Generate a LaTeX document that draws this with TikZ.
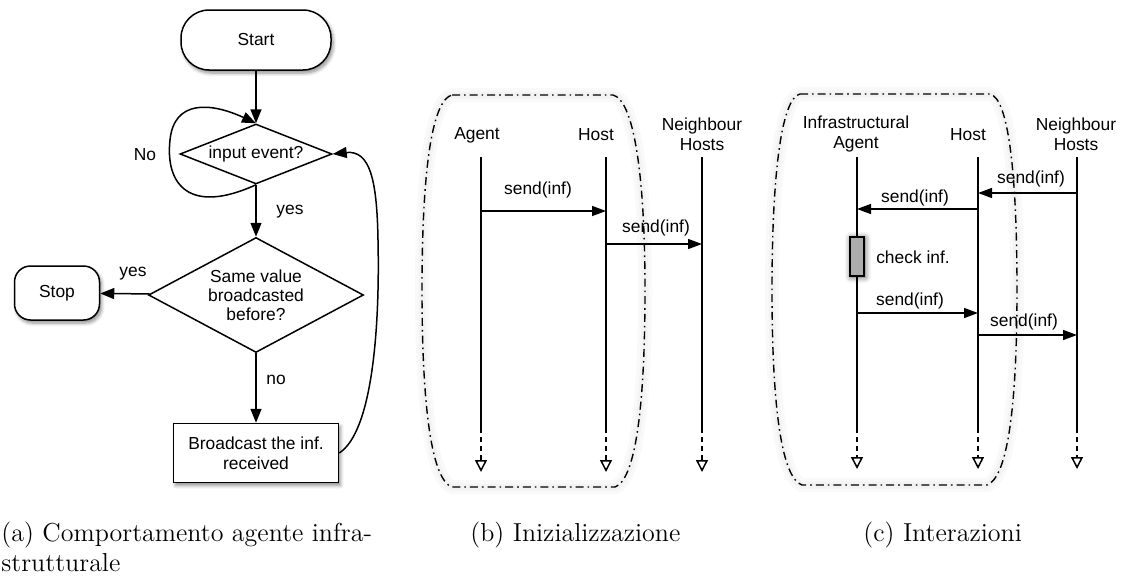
\documentclass[tikz,border=0pt]{standalone}
\usepackage{fontspec}
\newfontfamily\arialf{Liberation Sans}
\usetikzlibrary{arrows.meta,shapes.geometric,shadows.blur}
\begin{document}
\begin{tikzpicture}[x=0.5pt,y=-0.5pt,
  lbl/.style={font=\arialf\fontsize{8.7}{10}\selectfont, align=center, inner sep=0pt},
  ln/.style={line width=0.75pt},
  arr/.style={ln,-{Triangle[length=7pt,width=5.5pt]}},
  sarr/.style={ln,-{Triangle[length=7pt,width=5pt]}},
  life/.style={ln},
  lifeend/.style={ln,dash pattern=on 2.5pt off 2pt,-{Triangle[open,length=6pt,width=6pt,line width=0.75pt]}},
  shd/.style={blur shadow={shadow xshift=1pt,shadow yshift=-1.5pt,shadow blur steps=6,shadow opacity=45}},
  term/.style={draw,ln,fill=white,shd,lbl},
  dia/.style={draw,ln,fill=white,diamond,lbl,inner sep=0pt},
  box/.style={draw,ln,fill=white,shd,lbl,rectangle},
  dashdot/.style={line width=0.7pt,dash pattern=on 4pt off 2pt on 0.8pt off 2pt},
  halo/.style={line width=7pt,black,opacity=0.025},
  halo2/.style={line width=3.5pt,black,opacity=0.025},
  captxt/.style={font=\fontsize{13}{15}\selectfont, inner sep=0pt, align=left}
]
\useasboundingbox (0,0) rectangle (1124,578);

% ---------- (a) flowchart ----------
\node[term, minimum width=75pt, minimum height=30pt, rounded corners=14pt] (start) at (256,40) {Start};
\node[dia, minimum width=76pt, minimum height=30pt, aspect=2.5] (q1) at (256,154) {input event?};
\node[dia, minimum width=107.5pt, minimum height=57.5pt, aspect=1.87, font=\arialf\fontsize{8.7}{9.6}\selectfont] (q2) at (256,295) {Same value\\broadcasted\\before?};
\node[term, minimum width=42.5pt, minimum height=27pt, rounded corners=8pt] (stop) at (57,293) {Stop};
\node[box, minimum width=82.5pt, minimum height=29.5pt] (bc) at (256,453) {Broadcast the inf.\\received};

\draw[arr] (start) -- (q1);
\draw[arr] (q1) -- (q2);
\node[lbl] (lyes1) at (290,212) {yes};
\draw[arr] (q2) -- (stop);
\node[lbl] (lyes2) at (133,274) {yes};
\draw[arr] (q2) -- (bc);
\node[lbl] (lno) at (276,380) {no};
\draw[arr] (q1.south) .. controls (190,215) and (165,185) .. (170,140)
   .. controls (174,100) and (210,102) .. (q1.north);
\node[lbl] (lNo) at (145,155) {No};
\draw[arr] (bc.east) .. controls (372,432) and (380,330) .. (378,240)
   .. controls (377,180) and (370,150) .. (q1.east);

% ---------- (b) initialization ----------
\def\bpath{(452,95) -- (613,95) .. controls (633,100) and (645,170) .. (645,290)
  .. controls (645,410) and (635,480) .. (615,487) -- (452,487)
  .. controls (432,480) and (422,410) .. (422,290)
  .. controls (422,170) and (432,100) .. (452,95) -- cycle}
\draw[halo] \bpath;
\draw[halo2] \bpath;
\draw[dashdot] \bpath;
\node[lbl] (bag) at (477,135) {Agent};
\node[lbl] (bho) at (596,135) {Host};
\node[lbl] (bnh) at (702,134) {Neighbour\\Hosts};
\foreach \n/\x in {bA/481,bH/606,bN/702}{
  \coordinate (\n T) at (\x,157);
  \coordinate (\n M) at (\x,428);
  \coordinate (\n B) at (\x,472);
  \draw[life] (\n T) -- (\n M);
  \draw[lifeend] (\n M) -- (\n B);
}
\coordinate (b1s) at (481,211); \coordinate (b1e) at (606,211);
\coordinate (b2s) at (606,244); \coordinate (b2e) at (702,244);
\draw[sarr] (b1s) -- (b1e);
\node[lbl] (bl1) at (538,190) {send(inf)};
\draw[sarr] (b2s) -- (b2e);
\node[lbl] (bl2) at (656,228) {send(inf)};

% ---------- (c) interactions ----------
\def\cpath{(800,94) -- (990,94) .. controls (1008,98) and (1017,170) .. (1017,290)
  .. controls (1017,410) and (1007,478) .. (987,485) -- (802,485)
  .. controls (782,478) and (772,410) .. (772,290)
  .. controls (772,170) and (782,98) .. (800,94) -- cycle}
\draw[halo] \cpath;
\draw[halo2] \cpath;
\draw[dashdot] \cpath;
\node[lbl] (cag) at (856,134) {Infrastructural\\Agent};
\node[lbl] (cho) at (968,135) {Host};
\node[lbl] (cnh) at (1076,134) {Neighbour\\Hosts};
\foreach \n/\x in {cA/857,cH/978,cN/1077}{
  \coordinate (\n T) at (\x,157);
  \coordinate (\n M) at (\x,428);
  \coordinate (\n B) at (\x,469);
  \draw[life] (\n T) -- (\n M);
  \draw[lifeend] (\n M) -- (\n B);
}
\node[draw,ln,fill=gray!65,minimum width=7pt,minimum height=19.5pt,inner sep=0pt,
  blur shadow={shadow xshift=0.5pt,shadow yshift=-0.5pt,shadow blur radius=3pt,shadow opacity=70}] (act) at (857,256.5) {};
\node[lbl] (chk) at (913,257) {check inf.};
\coordinate (c1s) at (1077,193); \coordinate (c1e) at (978,193);
\coordinate (c2s) at (978,209); \coordinate (c2e) at (857,209);
\coordinate (c3s) at (857,313); \coordinate (c3e) at (978,313);
\coordinate (c4s) at (978,335); \coordinate (c4e) at (1077,335);
\draw[sarr] (c1s) -- (c1e);
\node[lbl] (cl1) at (1031,179) {send(inf)};
\draw[sarr] (c2s) -- (c2e);
\node[lbl] (cl2) at (915,198) {send(inf)};
\draw[sarr] (c3s) -- (c3e);
\node[lbl] (cl3) at (910,301) {send(inf)};
\draw[sarr] (c4s) -- (c4e);
\node[lbl] (cl4) at (1024,322) {send(inf)};

% ---------- captions ----------
\node[captxt, anchor=base west] (capa) at (1,541) {(a) Comportamento agente infra-};
\node[captxt, anchor=base west] (capa2) at (1,571) {strutturale};
\node[captxt, anchor=base west] (capb) at (470,541) {(b) Inizializzazione};
\node[captxt, anchor=base west] (capc) at (863,541) {(c) Interazioni};
\end{tikzpicture}
\end{document}
